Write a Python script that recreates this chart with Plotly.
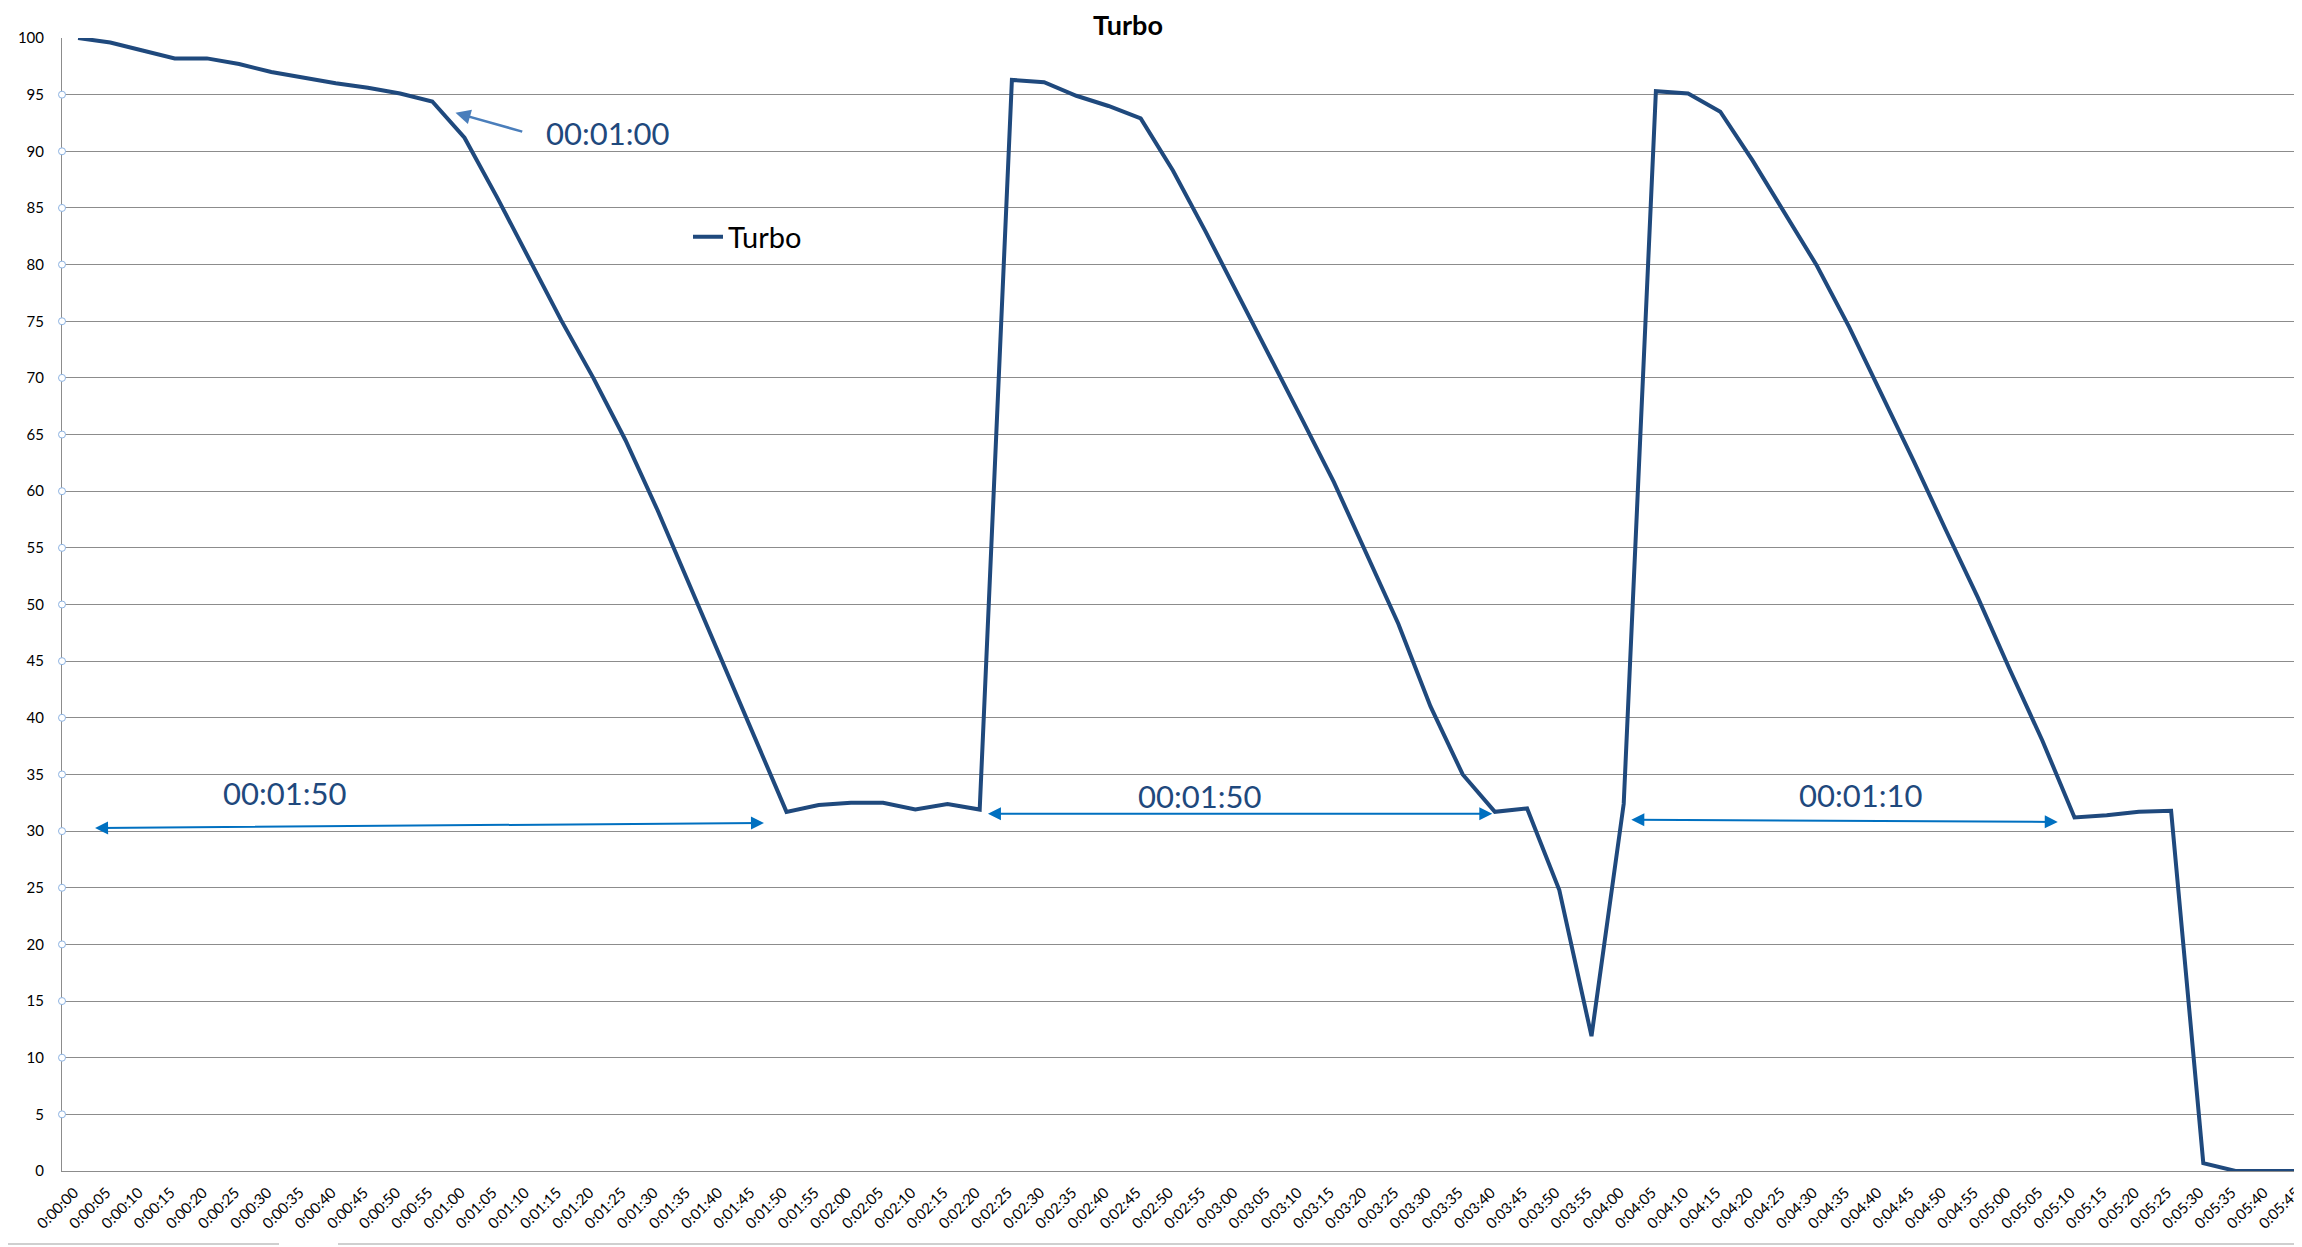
import plotly.graph_objects as go

# ---- data ----
times = [f"0:{m:02d}:{s:02d}" for m in range(0, 6) for s in range(0, 60, 5)][:71]
turbo = [100, 99.6, 98.9, 98.2, 98.2, 97.7, 97.0, 96.5, 96.0, 95.6,
         95.1, 94.4, 91.2, 86.0, 80.5, 75.1, 70.0, 64.5, 58.3, 51.7,
         45.0, 38.4, 31.7, 32.3, 32.5, 32.5, 31.9, 32.4, 31.9, 96.3,
         96.1, 94.9, 94.0, 92.9, 88.3, 83.0, 77.5, 72.0, 66.4, 60.8,
         54.6, 48.3, 41.0, 35.0, 31.7, 32.0, 24.8, 11.9, 32.4, 95.3,
         95.1, 93.5, 89.2, 84.5, 79.9, 74.5, 68.7, 62.7, 56.6, 50.6,
         44.2, 38.0, 31.2, 31.4, 31.7, 31.8, 0.7, 0.0, 0.0, 0.0, 0.0]
y_ticks = list(range(0, 101, 5))
span_labels = ["00:01:00", "00:01:50", "00:01:50", "00:01:10"]

FONT = "Lato, Carlito, Calibri, sans-serif"
LINE_COLOR = "#1F497D"
GRID = "#8C8C8C"

fig = go.Figure()
fig.add_trace(go.Scatter(
    x=times, y=turbo, mode="lines", name="Turbo",
    line=dict(color=LINE_COLOR, width=4),
    cliponaxis=False, hoverinfo="x+y",
))

# the page body has an 8px margin, so the figure is offset by 8px
OFF = 8
W, H = 2302 - OFF, 1247 - OFF
ML, MT = 62 - OFF, 38 - OFF
PLOT_BOTTOM = 1171 - OFF
MB = H - PLOT_BOTTOM
pw, ph = W - ML, PLOT_BOTTOM - MT
CAT_PX = 32.2  # width of one category slot in the original chart

fig.update_layout(
    width=W, height=H,
    margin=dict(l=ML, r=0, t=MT, b=MB, pad=0, autoexpand=False),
    paper_bgcolor="white", plot_bgcolor="white",
    font=dict(family=FONT, color="#000000", size=15),
    title=dict(text="<b>Turbo</b>", x=(1128 - OFF) / W, xref="container", xanchor="center",
               y=1 - (26 - OFF) / H, yref="container", yanchor="middle",
               font=dict(family=FONT, size=27, color="#000000")),
    showlegend=True,
    legend=dict(x=(688 - 62) / pw, xanchor="left", y=(1171 - 237) / ph,
                yanchor="middle", bgcolor="rgba(0,0,0,0)",
                font=dict(family=FONT, size=29, color="#000000")),
    xaxis=dict(
        type="category", range=[-0.5, pw / CAT_PX - 0.5], automargin=False,
        tickmode="array", tickvals=times, ticktext=times, tickangle=-45,
        tickfont=dict(family=FONT, size=15, color="#000000"),
        showgrid=False, showline=True, linecolor=GRID, linewidth=1,
        ticks="", ticklabelstandoff=6, ticklabelshift=-4, zeroline=False,
    ),
    yaxis=dict(
        range=[0, 100], tickmode="array", tickvals=y_ticks, automargin=False,
        tickfont=dict(family=FONT, size=15, color="#000000"),
        showgrid=True, gridcolor=GRID, gridwidth=1,
        showline=True, linecolor=GRID, linewidth=1,
        ticks="", ticklabelstandoff=14, zeroline=False,
    ),
)

# Excel selection handles on the vertical axis
for v in y_ticks[1:-1]:
    fig.add_shape(type="circle", xref="paper", yref="y", xsizemode="pixel", ysizemode="pixel",
                  xanchor=0, yanchor=v, x0=-3.5, x1=3.5, y0=-3.5, y1=3.5,
                  line=dict(color="#8DB3E2", width=1), fillcolor="white", layer="above")

# strip lines at the very bottom of the screenshot
yb = -(1244 - 1171) / ph
for a, b in [(0, 279), (338, 2302)]:
    fig.add_shape(type="line", xref="paper", yref="paper",
                  x0=(a - 62) / pw, x1=(b - 62) / pw, y0=yb, y1=yb,
                  line=dict(color="#BFBFBF", width=1.5))

TXT = dict(family=FONT, size=31, color="#1F497D")
# single arrow pointing at the 0:01:00 knee
fig.add_annotation(x=11.72, y=93.4, ax=13.84, ay=91.7, xref="x", yref="y",
                   axref="x", ayref="y", text="", showarrow=True,
                   arrowhead=2, arrowsize=1.2, arrowwidth=2.5, arrowcolor="#4A7EBB")
fig.add_annotation(x=16.45, y=91.6, xref="x", yref="y", text=span_labels[0],
                   showarrow=False, font=TXT)

spans = [((0.48, 30.27), (21.30, 30.72), (6.41, 33.36)),
         ((28.21, 31.53), (43.92, 31.53), (34.82, 33.07)),
         ((48.19, 31.0), (61.48, 30.81), (55.35, 33.23))]
for (p0, p1, t), lab in zip(spans, span_labels[1:]):
    fig.add_annotation(x=p1[0], y=p1[1], ax=p0[0], ay=p0[1], xref="x", yref="y",
                       axref="x", ayref="y", text="", showarrow=True,
                       arrowside="end+start", arrowhead=2, arrowsize=1.3,
                       arrowwidth=2, arrowcolor="#0070C0")
    fig.add_annotation(x=t[0], y=t[1], xref="x", yref="y", text=lab,
                       showarrow=False, font=TXT)

fig.write_html("out.html")
